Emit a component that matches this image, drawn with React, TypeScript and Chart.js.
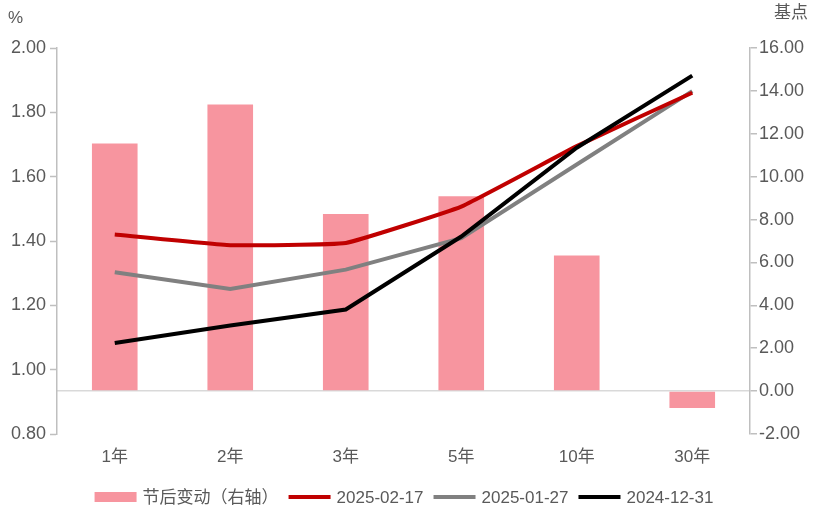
import React, { useEffect, useRef } from "react";
import { Chart, registerables } from "chart.js";

Chart.register(...registerables);

const categories = ["1年", "2年", "3年", "5年", "10年", "30年"];
const changeBp = [11.55, 13.36, 8.26, 9.09, 6.32, -0.79];
const y20250217 = [1.42, 1.387, 1.394, 1.507, 1.695, 1.861];
const y20250127 = [1.303, 1.251, 1.311, 1.409, 1.638, 1.866];
const y20241231 = [1.083, 1.137, 1.187, 1.414, 1.69, 1.914];
const seriesNames = ["节后变动（右轴）", "2025-02-17", "2025-01-27", "2024-12-31"];
const leftTitle = "%";
const rightTitle = "基点";

const FONT = '"Liberation Sans", Arial, "Noto Sans CJK SC", sans-serif';
const TEXT = "#595959";
const AXIS = "#bfbfbf";

const titlesPlugin = {
  id: "titles",
  afterDraw(chart: any) {
    const ctx = chart.ctx;
    ctx.save();
    ctx.fillStyle = TEXT;
    ctx.font = `17px ${FONT}`;
    ctx.textBaseline = "middle";
    ctx.textAlign = "left";
    ctx.fillText(leftTitle, 8, 18);
    ctx.textAlign = "right";
    ctx.fillText(rightTitle, chart.width - 6, 13);
    ctx.restore();
  },
};

const legendPlugin = {
  id: "customLegend",
  afterDraw(chart: any) {
    const ctx = chart.ctx;
    ctx.save();
    ctx.font = `17px ${FONT}`;
    const markerW = 42;
    const gap = 6;
    const itemGap = 10;
    const ds = chart.data.datasets;
    const widths = ds.map((d: any) => markerW + gap + ctx.measureText(d.label).width);
    const total = widths.reduce((a: number, b: number) => a + b, 0) + itemGap * (ds.length - 1);
    let x = chart.width / 2 - 3 - total / 2;
    const y = 497;
    ds.forEach((d: any, i: number) => {
      if (d.type === "bar") {
        ctx.fillStyle = d.backgroundColor;
        ctx.fillRect(x, y - 5, markerW, 10);
      } else {
        ctx.strokeStyle = d.borderColor;
        ctx.lineWidth = 4;
        ctx.beginPath();
        ctx.moveTo(x, y);
        ctx.lineTo(x + markerW, y);
        ctx.stroke();
      }
      ctx.fillStyle = TEXT;
      ctx.textAlign = "left";
      ctx.textBaseline = "middle";
      ctx.fillText(d.label, x + markerW + gap, y + 1);
      x += widths[i] + itemGap;
    });
    ctx.restore();
  },
};

export default function App() {
  const ref = useRef<HTMLCanvasElement | null>(null);
  useEffect(() => {
    if (!ref.current) return;
    const chart = new Chart(ref.current, {
      type: "bar",
      data: {
        labels: categories,
        datasets: [
          {
            type: "bar",
            label: seriesNames[0],
            data: changeBp,
            yAxisID: "yR",
            backgroundColor: "#F7959F",
            categoryPercentage: 1,
            barPercentage: 0.395,
            order: 4,
          } as any,
          {
            type: "line",
            label: seriesNames[1],
            data: y20250217,
            yAxisID: "yL",
            borderColor: "#C00000",
            borderWidth: 4,
            pointRadius: 0,
            tension: 0.1,
            fill: false,
            order: 2,
          },
          {
            type: "line",
            label: seriesNames[2],
            data: y20250127,
            yAxisID: "yL",
            borderColor: "#808080",
            borderWidth: 4,
            pointRadius: 0,
            tension: 0,
            fill: false,
            order: 3,
          },
          {
            type: "line",
            label: seriesNames[3],
            data: y20241231,
            yAxisID: "yL",
            borderColor: "#000000",
            borderWidth: 4,
            pointRadius: 0,
            tension: 0,
            fill: false,
            order: 1,
          },
        ],
      },
      options: {
        responsive: false,
        animation: false,
        layout: { padding: { left: 0, right: 0, top: 48, bottom: 46 } },
        plugins: { legend: { display: false }, tooltip: { enabled: false } },
        scales: {
          x: {
            offset: true,
            grid: { display: false, drawTicks: false },
            border: { display: false },
            ticks: { color: TEXT, font: { family: FONT, size: 17 }, padding: 13 },
            afterFit(scale: any) {
              scale.height = 30;
            },
          },
          yL: {
            position: "left",
            min: 0.8,
            max: 2.0,
            ticks: {
              stepSize: 0.2,
              color: TEXT,
              font: { family: FONT, size: 18 },
              padding: 4,
              callback: (v: any) => Number(v).toFixed(2),
            },
            grid: { drawOnChartArea: false, drawTicks: true, tickLength: 7, tickColor: AXIS, tickWidth: 1.5 },
            border: { display: true, color: AXIS, width: 1.5 },
            afterFit(scale: any) {
              scale.width = 57;
            },
          },
          yR: {
            position: "right",
            min: -2,
            max: 16,
            ticks: {
              stepSize: 2,
              color: TEXT,
              font: { family: FONT, size: 18 },
              padding: 2,
              callback: (v: any) => Number(v).toFixed(2),
            },
            grid: {
              drawOnChartArea: true,
              drawTicks: true,
              tickLength: 7,
              tickColor: AXIS,
              tickWidth: 1.5,
              lineWidth: 1.5,
              color: (c: any) => (c.tick && c.tick.value === 0 ? "#d9d9d9" : "rgba(0,0,0,0)"),
            },
            border: { display: true, color: AXIS, width: 1.5 },
            afterFit(scale: any) {
              scale.width = 64;
            },
          },
        },
      },
      plugins: [titlesPlugin, legendPlugin],
    });
    return () => chart.destroy();
  }, []);
  return (
    <div style={{ position: "absolute", left: 0, top: 0, width: 814, height: 510, background: "#fff" }}>
      <canvas ref={ref} width={814} height={510} />
    </div>
  );
}
